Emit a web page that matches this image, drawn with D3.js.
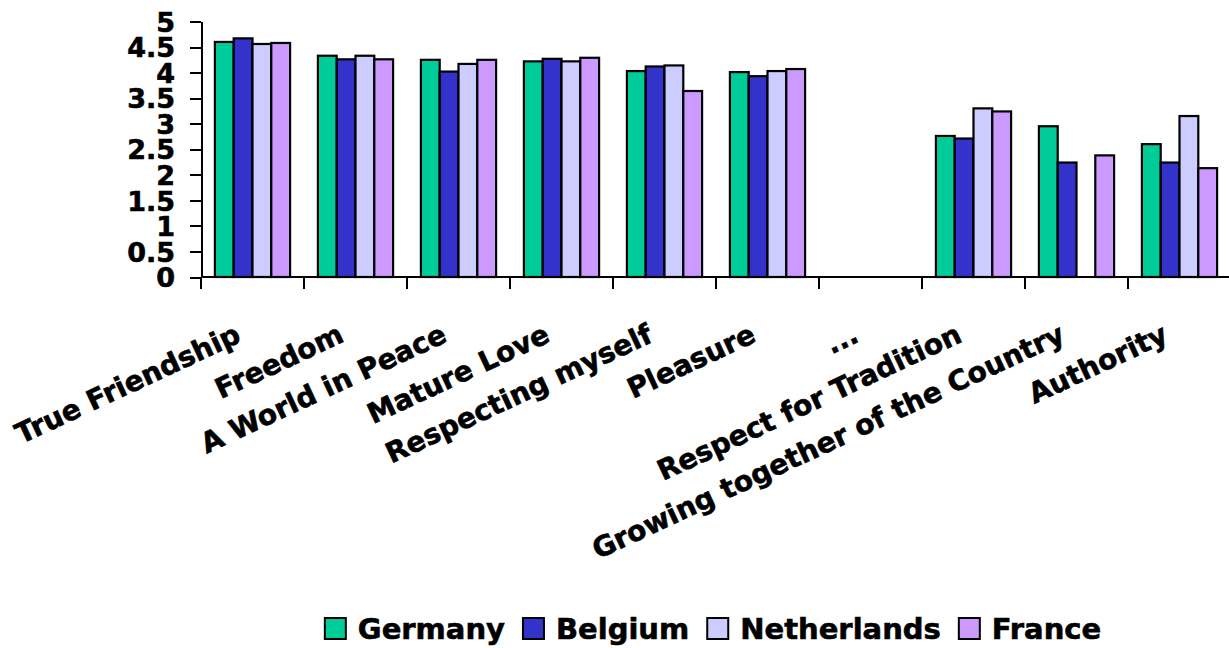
<!DOCTYPE html>
<html lang="en">
<head>
  <meta charset="UTF-8">
  <title>Values by country</title>
  <script src="https://d3js.org/d3.v7.min.js"></script>
  <style>
    body {
      margin: 0;
      background: #fff;
    }
    svg {
      display: block;
      font-family: Verdana, "DejaVu Sans", sans-serif;
      font-weight: bold;
    }
    svg text {
      stroke: #000;
      stroke-width: 0.6;
    }
    .axis path,
    .axis line {
      stroke: #000;
      stroke-width: 2;
      shape-rendering: crispEdges;
    }
  </style>
</head>
<body>
  <svg width="1229" height="648"></svg>

  <script>
    // data
    const categories = ["True Friendship", "Freedom", "A World in Peace", "Mature Love", "Respecting myself",
      "Pleasure", "...", "Respect for Tradition", "Growing together of the Country", "Authority"];
    const seriesNames = ["Germany", "Belgium", "Netherlands", "France"];
    const germany     = [4.60, 4.33, 4.25, 4.22, 4.03, 4.01, null, 2.76, 2.95, 2.60];
    const belgium     = [4.67, 4.26, 4.02, 4.27, 4.12, 3.93, null, 2.71, 2.24, 2.24];
    const netherlands = [4.56, 4.33, 4.17, 4.22, 4.14, 4.03, null, 3.30, null, 3.15];
    const france      = [4.58, 4.26, 4.25, 4.29, 3.64, 4.07, null, 3.24, 2.38, 2.13];
    const yTicks = [0, 0.5, 1, 1.5, 2, 2.5, 3, 3.5, 4, 4.5, 5];
    const colors = ["#00CC99", "#3333CC", "#CCCCFF", "#CC99FF"];

    const seriesValues = [germany, belgium, netherlands, france];

    const svg = d3.select("svg");
    const plotLeft = 201, plotRight = 1231, plotTop = 21.5, plotBottom = 277;

    const x0 = d3.scaleBand()
      .domain(categories)
      .range([plotLeft, plotRight])
      .paddingInner(0.27)
      .paddingOuter(0.135);

    const x1 = d3.scaleBand()
      .domain(seriesNames)
      .range([0, x0.bandwidth()]);

    const y = d3.scaleLinear()
      .domain([0, 5])
      .range([plotBottom, plotTop]);

    // bars
    const groups = svg.append("g")
      .selectAll("g")
      .data(categories)
      .join("g")
      .attr("transform", d => `translate(${x0(d)},0)`);

    groups.selectAll("rect")
      .data((d, i) => seriesNames.map((s, j) => ({ series: s, value: seriesValues[j][i], color: colors[j] }))
        .filter(e => e.value != null))
      .join("rect")
      .attr("x", d => x1(d.series))
      .attr("width", x1.bandwidth())
      .attr("y", d => y(d.value))
      .attr("height", d => y(0) - y(d.value))
      .attr("fill", d => d.color)
      .attr("stroke", "#000")
      .attr("stroke-width", 2.2);

    // y axis
    const yAxis = svg.append("g")
      .attr("class", "axis")
      .attr("transform", `translate(${plotLeft},0)`)
      .call(d3.axisLeft(y).tickValues(yTicks).tickSize(11).tickSizeOuter(0).tickFormat(d3.format("")));

    yAxis.selectAll("text")
      .attr("x", -26)
      .attr("dy", "0.36em")
      .style("font-size", "27px")
      .style("font-family", "Verdana, 'DejaVu Sans', sans-serif")
      .style("font-weight", "bold")
      .attr("fill", "#000");

    // x axis: line, ticks at category boundaries
    const xAxis = svg.append("g").attr("class", "axis");
    xAxis.append("line")
      .attr("x1", plotLeft).attr("x2", plotRight)
      .attr("y1", plotBottom).attr("y2", plotBottom);

    const bounds = categories.map(c => x0(c) - x0.step() * x0.paddingOuter());
    bounds.push(plotRight);
    xAxis.selectAll(".tick")
      .data(bounds)
      .join("line")
      .attr("x1", d => d).attr("x2", d => d)
      .attr("y1", plotBottom).attr("y2", plotBottom + 12);

    // rotated category labels
    svg.append("g")
      .selectAll("text")
      .data(categories)
      .join("text")
      .attr("transform", d => `translate(${x0(d) + x0.bandwidth() / 2 - 10},341) rotate(-25)`)
      .attr("text-anchor", "end")
      .style("font-size", "28px")
      .text(d => d);

    // legend
    const legend = svg.append("g");
    const items = legend.selectAll("g")
      .data(seriesNames)
      .join("g");

    items.append("rect")
      .attr("width", 21)
      .attr("height", 21)
      .attr("y", 618)
      .attr("fill", (d, i) => colors[i])
      .attr("stroke", "#000")
      .attr("stroke-width", 2);

    items.append("text")
      .attr("x", 33)
      .attr("y", 639)
      .style("font-size", "29px")
      .text(d => d);

    let pos = 0;
    const offsets = [];
    items.each(function () {
      offsets.push(pos);
      const w = d3.select(this).select("text").node().getComputedTextLength();
      pos += 33 + w + 18;
    });
    const total = pos - 18;
    const start = 713 - total / 2;
    items.attr("transform", (d, i) => `translate(${start + offsets[i]},0)`);
  </script>
</body>
</html>
